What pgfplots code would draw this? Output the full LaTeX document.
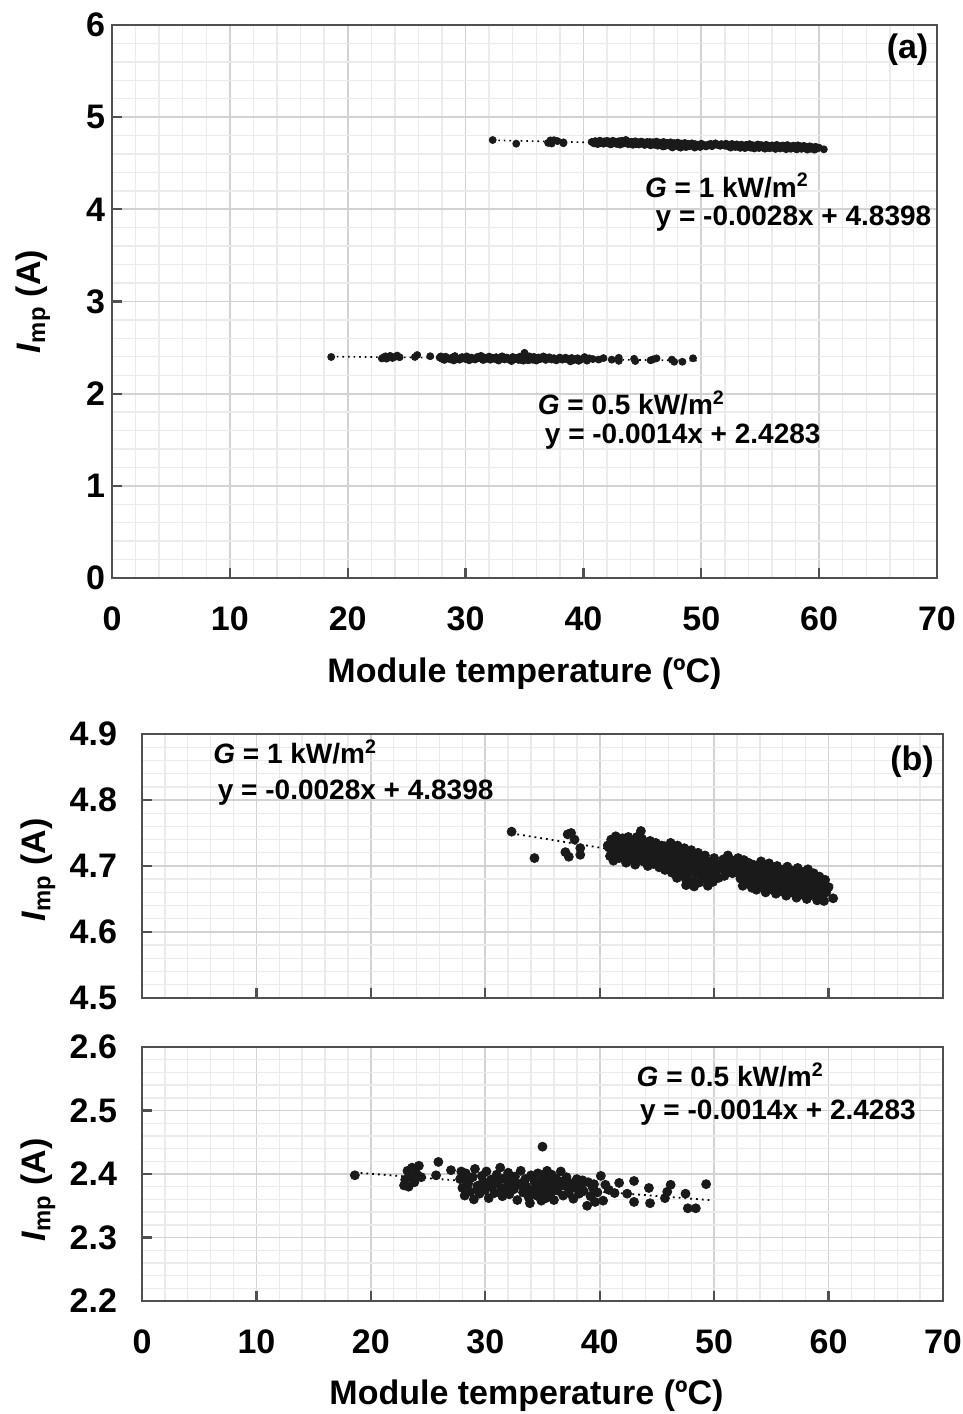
\documentclass[border=0pt]{standalone}
\usepackage{pgfplots}
\pgfplotsset{compat=1.18}
\usepackage{pgfplotstable}
\usepackage{fontspec}
\setmainfont{Liberation Sans}

\definecolor{axgray}{HTML}{505050}
\definecolor{majgrid}{HTML}{D2D2D2}
\definecolor{mingrid}{HTML}{EBEBEB}
\definecolor{dot}{HTML}{1A1A1A}

\pgfplotstableread{
x y
32.3 4.752
34.3 4.712
37.0 4.721
37.3 4.714
37.2 4.748
37.5 4.750
37.8 4.740
38.3 4.727
38.3 4.717
40.7 4.731
43.6 4.753
40.8 4.728
40.9 4.715
41.0 4.740
41.1 4.722
41.2 4.708
41.3 4.735
41.4 4.745
41.5 4.718
41.6 4.730
41.7 4.712
41.8 4.738
41.9 4.725
42.0 4.742
42.1 4.716
42.2 4.731
42.3 4.705
42.4 4.726
42.5 4.744
42.6 4.719
42.7 4.733
42.8 4.710
42.9 4.727
43.0 4.739
43.1 4.702
43.2 4.721
43.3 4.734
43.4 4.714
43.5 4.728
43.7 4.741
43.8 4.707
43.9 4.723
44.0 4.716
44.1 4.733
44.2 4.700
44.3 4.725
44.4 4.738
44.5 4.711
44.6 4.729
44.7 4.703
44.8 4.720
44.9 4.735
45.0 4.712
45.1 4.726
45.2 4.698
45.3 4.717
45.4 4.731
45.5 4.706
45.6 4.722
45.7 4.694
45.8 4.714
45.9 4.728
46.0 4.701
46.1 4.719
46.2 4.735
46.3 4.690
46.4 4.709
46.5 4.724
46.6 4.697
46.7 4.716
46.8 4.731
46.9 4.686
47.0 4.705
47.1 4.721
47.2 4.693
47.3 4.712
47.4 4.727
47.5 4.681
47.6 4.700
47.7 4.718
47.8 4.690
47.9 4.708
48.0 4.724
48.1 4.677
48.2 4.697
48.3 4.714
48.4 4.688
48.5 4.705
48.6 4.720
48.7 4.675
48.8 4.694
48.9 4.711
49.0 4.684
49.1 4.702
49.2 4.716
49.3 4.692
49.4 4.679
49.5 4.707
49.6 4.698
49.8 4.688
50.0 4.712
50.3 4.695
50.6 4.703
50.9 4.685
51.2 4.716
51.4 4.698
51.7 4.708
52.0 4.690
52.1 4.712
52.3 4.681
52.4 4.700
52.5 4.670
52.6 4.709
52.7 4.688
52.8 4.696
52.9 4.676
53.0 4.705
53.1 4.683
53.2 4.693
53.3 4.667
53.4 4.702
53.5 4.679
53.6 4.690
53.7 4.664
53.8 4.699
53.9 4.675
54.0 4.687
54.1 4.707
54.2 4.668
54.3 4.683
54.4 4.695
54.5 4.660
54.6 4.677
54.7 4.692
54.8 4.704
54.9 4.665
55.0 4.681
55.1 4.697
55.2 4.671
55.3 4.686
55.4 4.658
55.5 4.700
55.6 4.674
55.7 4.690
55.8 4.662
55.9 4.679
56.0 4.694
56.1 4.668
56.2 4.684
56.3 4.655
56.4 4.699
56.5 4.672
56.6 4.688
56.7 4.660
56.8 4.677
56.9 4.693
57.0 4.666
57.1 4.682
57.2 4.652
57.3 4.697
57.4 4.670
57.5 4.686
57.6 4.657
57.7 4.675
57.8 4.691
57.9 4.663
58.0 4.680
58.1 4.650
58.2 4.695
58.3 4.668
58.4 4.684
58.5 4.656
58.6 4.673
58.7 4.689
58.8 4.661
58.9 4.678
59.0 4.648
59.1 4.670
59.2 4.684
59.3 4.657
59.4 4.675
59.5 4.663
59.6 4.647
59.7 4.679
59.8 4.660
60.0 4.668
60.4 4.651
41.05 4.733
41.35 4.716
41.75 4.727
42.15 4.737
42.45 4.712
42.85 4.722
43.25 4.744
43.65 4.718
44.05 4.729
44.45 4.707
44.85 4.727
45.25 4.709
45.65 4.730
46.05 4.713
46.45 4.703
46.85 4.720
47.25 4.708
47.65 4.696
48.05 4.713
48.45 4.699
48.85 4.684
49.25 4.705
49.65 4.690
50.15 4.700
51.0 4.693
52.25 4.695
53.05 4.690
54.05 4.678
55.05 4.689
56.05 4.676
57.05 4.688
58.05 4.672
59.05 4.666
55.45 4.666
56.45 4.683
57.45 4.662
58.45 4.679
49.9 4.676
50.4 4.682
50.8 4.710
51.3 4.704
51.6 4.689
51.9 4.698
47.55 4.671
48.25 4.669
46.75 4.682
49.45 4.670
}\dataHigh

\pgfplotstableread{
x y
18.6 2.398
22.9 2.382
23.0 2.391
23.2 2.405
23.4 2.396
23.6 2.410
23.8 2.387
24.0 2.400
24.2 2.413
24.4 2.395
23.3 2.380
25.7 2.398
25.9 2.419
27.0 2.406
27.8 2.392
28.0 2.378
28.2 2.366
28.3 2.401
28.5 2.385
28.7 2.372
28.9 2.395
29.0 2.360
29.1 2.408
29.3 2.381
29.5 2.369
29.7 2.397
29.8 2.388
30.0 2.375
30.1 2.404
30.3 2.362
30.5 2.391
30.6 2.380
30.8 2.370
31.0 2.399
31.1 2.386
31.3 2.410
31.5 2.365
31.6 2.393
31.8 2.378
32.0 2.402
32.1 2.368
32.3 2.389
32.5 2.376
32.6 2.396
32.8 2.359
33.0 2.384
33.1 2.405
33.3 2.371
33.5 2.392
33.6 2.380
33.8 2.363
33.9 2.354
34.0 2.398
34.2 2.375
34.3 2.388
34.5 2.366
34.6 2.401
34.8 2.382
34.9 2.358
35.0 2.443
35.0 2.394
35.1 2.372
35.2 2.386
35.3 2.362
35.4 2.405
35.5 2.377
35.6 2.391
35.7 2.368
35.8 2.399
35.9 2.383
36.0 2.359
36.2 2.393
36.3 2.374
36.5 2.387
36.6 2.404
36.8 2.366
37.0 2.381
37.1 2.395
37.3 2.370
37.5 2.385
37.7 2.361
37.9 2.378
38.0 2.392
38.2 2.369
38.4 2.383
38.6 2.373
38.9 2.350
39.0 2.387
39.2 2.365
39.4 2.378
39.6 2.356
39.8 2.371
40.1 2.397
40.3 2.358
40.5 2.383
40.8 2.375
41.3 2.370
41.7 2.386
42.4 2.369
43.0 2.389
43.0 2.356
44.3 2.378
44.4 2.354
45.7 2.362
45.9 2.372
46.2 2.383
47.5 2.369
47.7 2.346
48.4 2.346
49.3 2.384
28.4 2.390
29.4 2.374
30.4 2.386
31.4 2.377
32.4 2.383
33.4 2.388
34.4 2.379
35.25 2.380
35.45 2.368
35.15 2.399
36.4 2.380
37.4 2.377
38.5 2.390
39.5 2.384
29.6 2.382
31.9 2.390
33.7 2.375
36.9 2.389
27.9 2.404
34.7 2.367
}\dataLow

\tikzset{
  ann/.style={anchor=west, font=\fontsize{14}{16}\selectfont\bfseries, inner sep=0pt},
}

\pgfplotsset{
  myaxis/.style={
    scale only axis,
    xmin=0, xmax=70,
    xtick={0,10,20,30,40,50,60,70},
    minor x tick num=4,
    minor y tick num=4,
    grid=both,
    major grid style={majgrid, line width=0.9pt},
    minor grid style={mingrid, line width=0.7pt},
    axis line style={axgray, line width=1.1pt},
    major tick style={axgray, line width=1.1pt},
    major tick length=5pt,
    minor tick length=0pt,
    tick align=inside,
    tick pos=left,
    tick label style={font=\fontsize{17}{20}\selectfont\bfseries, black},
    /pgf/number format/assume math mode=true,
    label style={font=\fontsize{17}{20}\selectfont\bfseries, black},
    xticklabel style={yshift=-11pt},
  },
  decaxis/.style={
    yticklabel style={xshift=-9pt,
      /pgf/number format/fixed,
      /pgf/number format/precision=1,
      /pgf/number format/fixed zerofill},
  },
}

\begin{document}
\begin{tikzpicture}
\useasboundingbox (0,0) rectangle (481.5pt,707pt);

% ---------------- (a)
\begin{axis}[myaxis,
  at={(56pt,418pt)}, anchor=south west,
  width=412.5pt, height=276.5pt,
  ymin=0, ymax=6, ytick={0,1,2,3,4,5,6},
  xlabel={Module temperature (ºC)},
  xlabel style={at={(axis description cs:0.5,0)}, anchor=north, yshift=-36.5pt},
  ylabel={\textit{I}\textsubscript{mp} (A)},
  ylabel style={at={(axis description cs:-0.096,0.5)}, anchor=center},
]
\addplot[only marks, mark=*, mark size=1.75pt, dot] table {\dataHigh};
\addplot[only marks, mark=*, mark size=1.75pt, dot] table {\dataLow};
\addplot[black, dotted, line width=0.8pt] coordinates {(32.3,4.7494) (60.4,4.6707)};
\addplot[black, dotted, line width=0.8pt] coordinates {(18.6,2.4023) (49.6,2.3589)};
\node[ann] at (axis cs:45.2,4.26) {\textit{G} = 1 kW/m\textsuperscript{2}};
\node[ann] at (axis cs:46.1,3.90) {y = -0.0028x + 4.8398};
\node[ann] at (axis cs:36.1,1.90) {\textit{G} = 0.5 kW/m\textsuperscript{2}};
\node[ann] at (axis cs:36.7,1.53) {y = -0.0014x + 2.4283};
\node[font=\fontsize{17}{20}\selectfont\bfseries] at (axis cs:67.5,5.73) {(a)};
\end{axis}

% ---------------- (b) top
\begin{axis}[myaxis, decaxis,
  at={(71pt,208pt)}, anchor=south west,
  width=400.5pt, height=132pt,
  ymin=4.5, ymax=4.9, ytick={4.5,4.6,4.7,4.8,4.9},
  xticklabels={},
  ylabel={\textit{I}\textsubscript{mp} (A)},
  ylabel style={at={(axis description cs:-0.130,0.485)}, anchor=center},
]
\addplot[only marks, mark=*, mark size=2.25pt, dot] table {\dataHigh};
\addplot[black, dotted, line width=0.9pt] coordinates {(32.3,4.7494) (60.4,4.6707)};
\node[ann] at (axis cs:6.2,4.873) {\textit{G} = 1 kW/m\textsuperscript{2}};
\node[ann] at (axis cs:6.6,4.811) {y = -0.0028x + 4.8398};
\node[font=\fontsize{17}{20}\selectfont\bfseries] at (axis cs:67.3,4.858) {(b)};
\end{axis}

% ---------------- (b) bottom
\begin{axis}[myaxis, decaxis,
  at={(71pt,56.5pt)}, anchor=south west,
  width=400.5pt, height=127pt,
  ymin=2.2, ymax=2.6, ytick={2.2,2.3,2.4,2.5,2.6},
  xlabel={Module temperature (ºC)},
  xlabel style={at={(axis description cs:0.48,0)}, anchor=north, yshift=-36pt},
  ylabel={\textit{I}\textsubscript{mp} (A)},
  ylabel style={at={(axis description cs:-0.130,0.437)}, anchor=center},
]
\addplot[only marks, mark=*, mark size=2.25pt, dot] table {\dataLow};
\addplot[black, dotted, line width=0.9pt] coordinates {(18.6,2.4023) (49.6,2.3589)};
\node[ann] at (axis cs:43.2,2.556) {\textit{G} = 0.5 kW/m\textsuperscript{2}};
\node[ann] at (axis cs:43.5,2.496) {y = -0.0014x + 2.4283};
\end{axis}
\end{tikzpicture}
\end{document}
